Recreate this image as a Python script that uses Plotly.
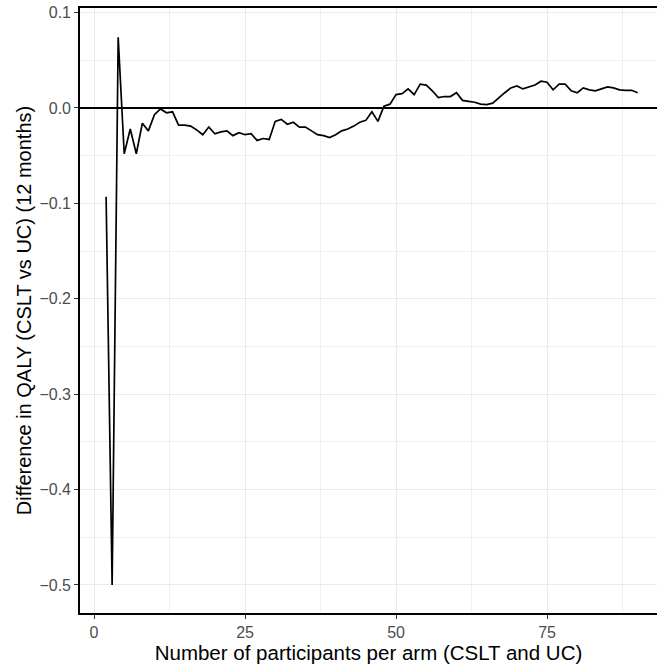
import plotly.graph_objects as go

participants = list(range(2, 91))
qaly_diff = [
    -0.093, -0.500, 0.074, -0.048, -0.022, -0.048, -0.016, -0.024, -0.007, -0.001,
    -0.005, -0.004, -0.018, -0.018, -0.019, -0.023, -0.028, -0.020, -0.027, -0.025,
    -0.024, -0.029, -0.026, -0.028, -0.027, -0.034, -0.032, -0.033, -0.014, -0.012,
    -0.017, -0.015, -0.020, -0.020, -0.024, -0.028, -0.029, -0.031, -0.028, -0.024,
    -0.022, -0.019, -0.015, -0.013, -0.004, -0.014, 0.002, 0.004, 0.014, 0.015,
    0.020, 0.014, 0.025, 0.024, 0.018, 0.011, 0.012, 0.012, 0.016, 0.008,
    0.007, 0.006, 0.004, 0.0035, 0.005, 0.011, 0.016, 0.021, 0.023, 0.020,
    0.022, 0.024, 0.028, 0.027, 0.019, 0.025, 0.025, 0.018, 0.016, 0.021,
    0.019, 0.018, 0.020, 0.022, 0.021, 0.019, 0.0185, 0.0185, 0.016,
]

x_ticks = [0, 25, 50, 75]
y_ticks = [0.1, 0.0, -0.1, -0.2, -0.3, -0.4, -0.5]
y_tick_labels = ["0.1", "0.0", "\u22120.1", "\u22120.2", "\u22120.3", "\u22120.4", "\u22120.5"]

fig = go.Figure()
fig.add_trace(go.Scatter(
    x=participants, y=qaly_diff, mode="lines",
    line=dict(color="black", width=1.7), showlegend=False,
))

font_family = "Liberation Sans, Arial, sans-serif"

fig.update_layout(
    width=657, height=669,
    margin=dict(l=80, r=0, t=8, b=56),
    paper_bgcolor="white", plot_bgcolor="white",
    font=dict(family=font_family, color="#4D4D4D", size=16),
)

fig.update_xaxes(
    range=[-2.32, 93.2],
    tickvals=x_ticks, ticktext=[str(v) for v in x_ticks],
    ticks="outside", ticklen=4, tickwidth=1.1, tickcolor="#333333",
    showline=True, linecolor="black", linewidth=1.6, mirror=True,
    showgrid=True, gridcolor="#EBEBEB", gridwidth=1.2,
    minor=dict(tickvals=[12.5, 37.5, 62.5, 87.5], showgrid=True, gridcolor="#F0F0F0", gridwidth=0.7, ticks=""),
    zeroline=False,
    tickfont=dict(size=16, color="#4D4D4D"),
    automargin=False,
    title=dict(text="Number of participants per arm (CSLT and UC)",
               font=dict(size=20.5, color="black"), standoff=1),
)

fig.update_yaxes(
    range=[-0.5294, 0.1048],
    tickvals=y_ticks, ticktext=y_tick_labels,
    ticks="outside", ticklen=4, tickwidth=1.1, tickcolor="#333333",
    showline=True, linecolor="black", linewidth=1.6, mirror=False,
    showgrid=True, gridcolor="#EBEBEB", gridwidth=1.2,
    minor=dict(tickvals=[0.05, -0.05, -0.15, -0.25, -0.35, -0.45], showgrid=True, gridcolor="#F0F0F0", gridwidth=0.7, ticks=""),
    zeroline=True, zerolinecolor="black", zerolinewidth=1.7,
    tickfont=dict(size=16, color="#4D4D4D"),
    automargin=False,
    title=dict(text="Difference in QALY (CSLT vs UC) (12 months)",
               font=dict(size=20, color="black"), standoff=2),
)

fig.write_html("out.html")
